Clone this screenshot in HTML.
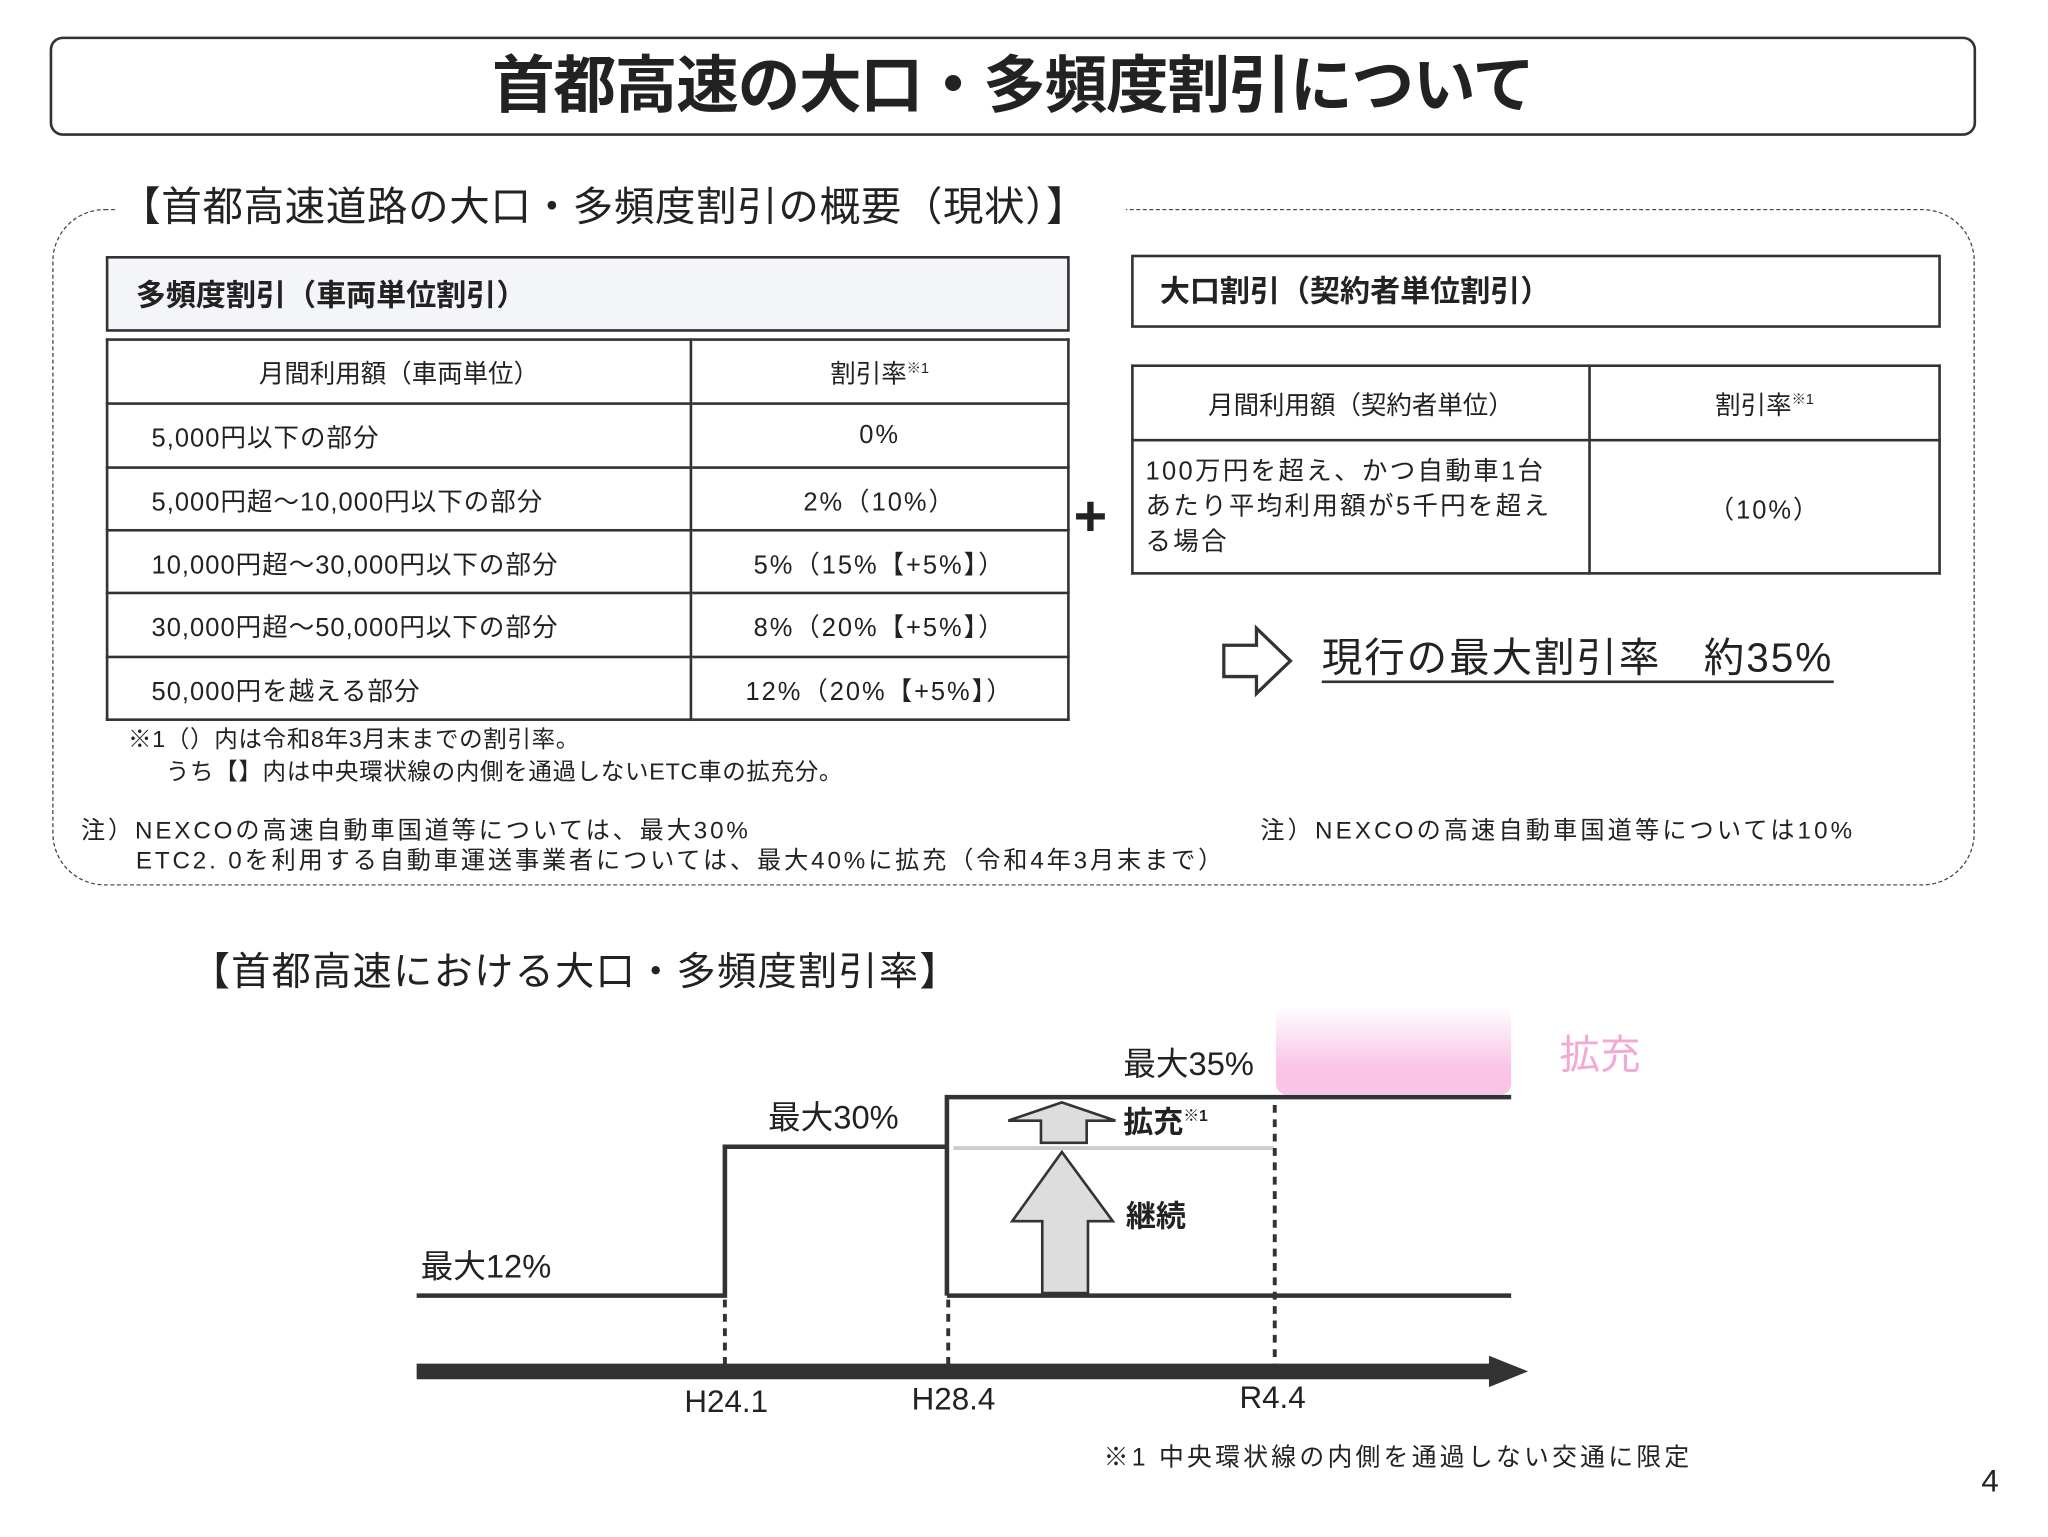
<!DOCTYPE html>
<html><head><meta charset="utf-8">
<style>
html,body{margin:0;padding:0;background:#fff;}
body{width:2048px;height:1537px;overflow:hidden;position:relative;}
#s{position:absolute;left:0;top:0;width:1568px;height:1177px;transform:scale(1.3061);transform-origin:0 0;font-family:"Liberation Sans","Noto Sans CJK JP",sans-serif;color:#222;}
.t{position:absolute;white-space:nowrap;line-height:1;}
.b{font-weight:bold;}
.box{position:absolute;border:2px solid #333;box-sizing:border-box;}
table{position:absolute;border-collapse:collapse;font-size:19.5px;}
td{border:2px solid #333;padding:0;}
</style></head><body><div id="s">
<div class="box" style="left:38px;top:28px;width:1475px;height:76px;border-radius:10px;"></div>
<div class="t b" style="left:0;width:1551px;text-align:center;top:43px;font-size:48px;letter-spacing:-1px;">首都高速の大口・多頻度割引について</div>

<div style="position:absolute;left:40px;top:160px;width:1472px;height:518px;border:1.5px dashed #444;border-radius:40px;box-sizing:border-box;"></div>
<div class="t" style="left:90px;top:143px;font-size:31px;background:#fff;padding:0 8px 4px 2px;width:762px;letter-spacing:0.5px;">【首都高速道路の大口・多頻度割引の概要（現状）】</div>

<div class="box" style="left:81px;top:196px;width:738px;height:58px;background:#f3f5f9;"></div>
<div class="t b" style="left:104px;top:215px;font-size:23px;">多頻度割引（車両単位割引）</div>
<table style="left:81px;top:259px;width:738px;">
<tr style="height:49px"><td style="width:445px;text-align:center">月間利用額（車両単位）</td><td style="text-align:center">割引率<sup style="font-size:11px">※1</sup></td></tr>
<tr style="height:49px"><td style="padding-left:33px;letter-spacing:0.8px">5,000円以下の部分</td><td style="text-align:center;letter-spacing:1.5px">0%</td></tr>
<tr style="height:48px"><td style="padding-left:33px;letter-spacing:0.8px">5,000円超～10,000円以下の部分</td><td style="text-align:center;letter-spacing:1.5px">2%（10%）</td></tr>
<tr style="height:48px"><td style="padding-left:33px;letter-spacing:0.8px">10,000円超～30,000円以下の部分</td><td style="text-align:center;letter-spacing:1.5px">5%（15%【+5%】）</td></tr>
<tr style="height:49px"><td style="padding-left:33px;letter-spacing:0.8px">30,000円超～50,000円以下の部分</td><td style="text-align:center;letter-spacing:1.5px">8%（20%【+5%】）</td></tr>
<tr style="height:48px"><td style="padding-left:33px;letter-spacing:0.8px">50,000円を越える部分</td><td style="text-align:center;letter-spacing:1.5px">12%（20%【+5%】）</td></tr>
</table>
<div class="t" style="left:98px;top:557px;font-size:18px;letter-spacing:0.5px;">※1（）内は令和8年3月末までの割引率。</div>
<div class="t" style="left:127px;top:582px;font-size:18px;letter-spacing:0.5px;">うち【】内は中央環状線の内側を通過しないETC車の拡充分。</div>

<div class="t b" style="left:822px;top:374px;font-size:44px;">+</div>

<div class="box" style="left:866px;top:195px;width:620px;height:56px;"></div>
<div class="t b" style="left:888px;top:212px;font-size:23px;">大口割引（契約者単位割引）</div>
<table style="left:866px;top:279px;width:620px;">
<tr style="height:57px"><td style="width:348px;text-align:center">月間利用額（契約者単位）</td><td style="text-align:center">割引率<sup style="font-size:11px">※1</sup></td></tr>
<tr style="height:102px"><td style="padding-left:9px;line-height:27px;font-size:19.5px;letter-spacing:1.8px">100万円を超え、かつ自動車1台<br>あたり平均利用額が5千円を超え<br>る場合</td><td style="text-align:center;letter-spacing:1.5px">（10%）</td></tr>
</table>

<svg style="position:absolute;left:934px;top:478px" width="58" height="56"><polygon points="3,16 28,16 28,3 54,28 28,53 28,40 3,40" fill="#fff" stroke="#333" stroke-width="2.5"/></svg>
<div class="t" style="left:1012px;top:488px;font-size:31px;border-bottom:2px solid #333;padding-bottom:2px;letter-spacing:1.5px;">現行の最大割引率　約35%</div>

<div class="t" style="left:62px;top:627px;font-size:18.5px;letter-spacing:2.2px;">注）NEXCOの高速自動車国道等については、最大30%</div>
<div class="t" style="left:104px;top:650px;font-size:18.5px;letter-spacing:2.2px;">ETC2. 0を利用する自動車運送事業者については、最大40%に拡充（令和4年3月末まで）</div>
<div class="t" style="left:965px;top:627px;font-size:18.5px;letter-spacing:2.4px;">注）NEXCOの高速自動車国道等については10%</div>

<div class="t" style="left:146px;top:730px;font-size:30px;letter-spacing:1px;">【首都高速における大口・多頻度割引率】</div>

<div style="position:absolute;left:977px;top:770px;width:180px;height:68px;border-radius:8px;background:linear-gradient(to bottom,rgba(250,200,235,0),#f9c4e6 70%);"></div>
<div class="t" style="left:1194px;top:792px;font-size:31px;color:#f3a8d6;">拡充</div>

<svg style="position:absolute;left:0;top:0" width="1568" height="1177">
<g stroke="#333" stroke-width="3.5" fill="none">
<polyline points="319,992 555,992 555,878 725,878"/>
<polyline points="725,992 725,840 1157,840"/>
<line x1="725" y1="992" x2="1157" y2="992"/>
</g>
<line x1="730" y1="879" x2="975" y2="879" stroke="#ccc" stroke-width="3"/>
<g stroke="#333" stroke-width="3" stroke-dasharray="6,5">
<line x1="555" y1="995" x2="555" y2="1046"/>
<line x1="726" y1="995" x2="726" y2="1046"/>
<line x1="976" y1="846" x2="976" y2="1046"/>
</g>
<polygon points="319,1044 1140,1044 1140,1038 1170,1050 1140,1062 1140,1056 319,1056" fill="#333"/>
<polygon points="797,875 797,858 772,858 813,844 854,858 832,858 832,875" fill="#ddd" stroke="#333" stroke-width="2"/>
<polygon points="798,990 798,935 775,935 813,882 852,935 833,935 833,990" fill="#ddd" stroke="#333" stroke-width="2"/>
</svg>

<div class="t" style="left:322px;top:958px;font-size:25px;">最大12%</div>
<div class="t" style="left:588px;top:844px;font-size:25px;">最大30%</div>
<div class="t" style="left:860px;top:803px;font-size:25px;">最大35%</div>
<div class="t b" style="left:860px;top:848px;font-size:23px;">拡充<sup style="font-size:12px">※1</sup></div>
<div class="t b" style="left:862px;top:920px;font-size:23px;">継続</div>
<div class="t" style="left:524px;top:1062px;font-size:24px;">H24.1</div>
<div class="t" style="left:698px;top:1060px;font-size:24px;">H28.4</div>
<div class="t" style="left:949px;top:1059px;font-size:24px;">R4.4</div>
<div class="t" style="left:845px;top:1107px;font-size:19px;letter-spacing:2.5px;">※1 中央環状線の内側を通過しない交通に限定</div>
<div class="t" style="left:1517px;top:1123px;font-size:24px;">4</div>
</div></body></html>
